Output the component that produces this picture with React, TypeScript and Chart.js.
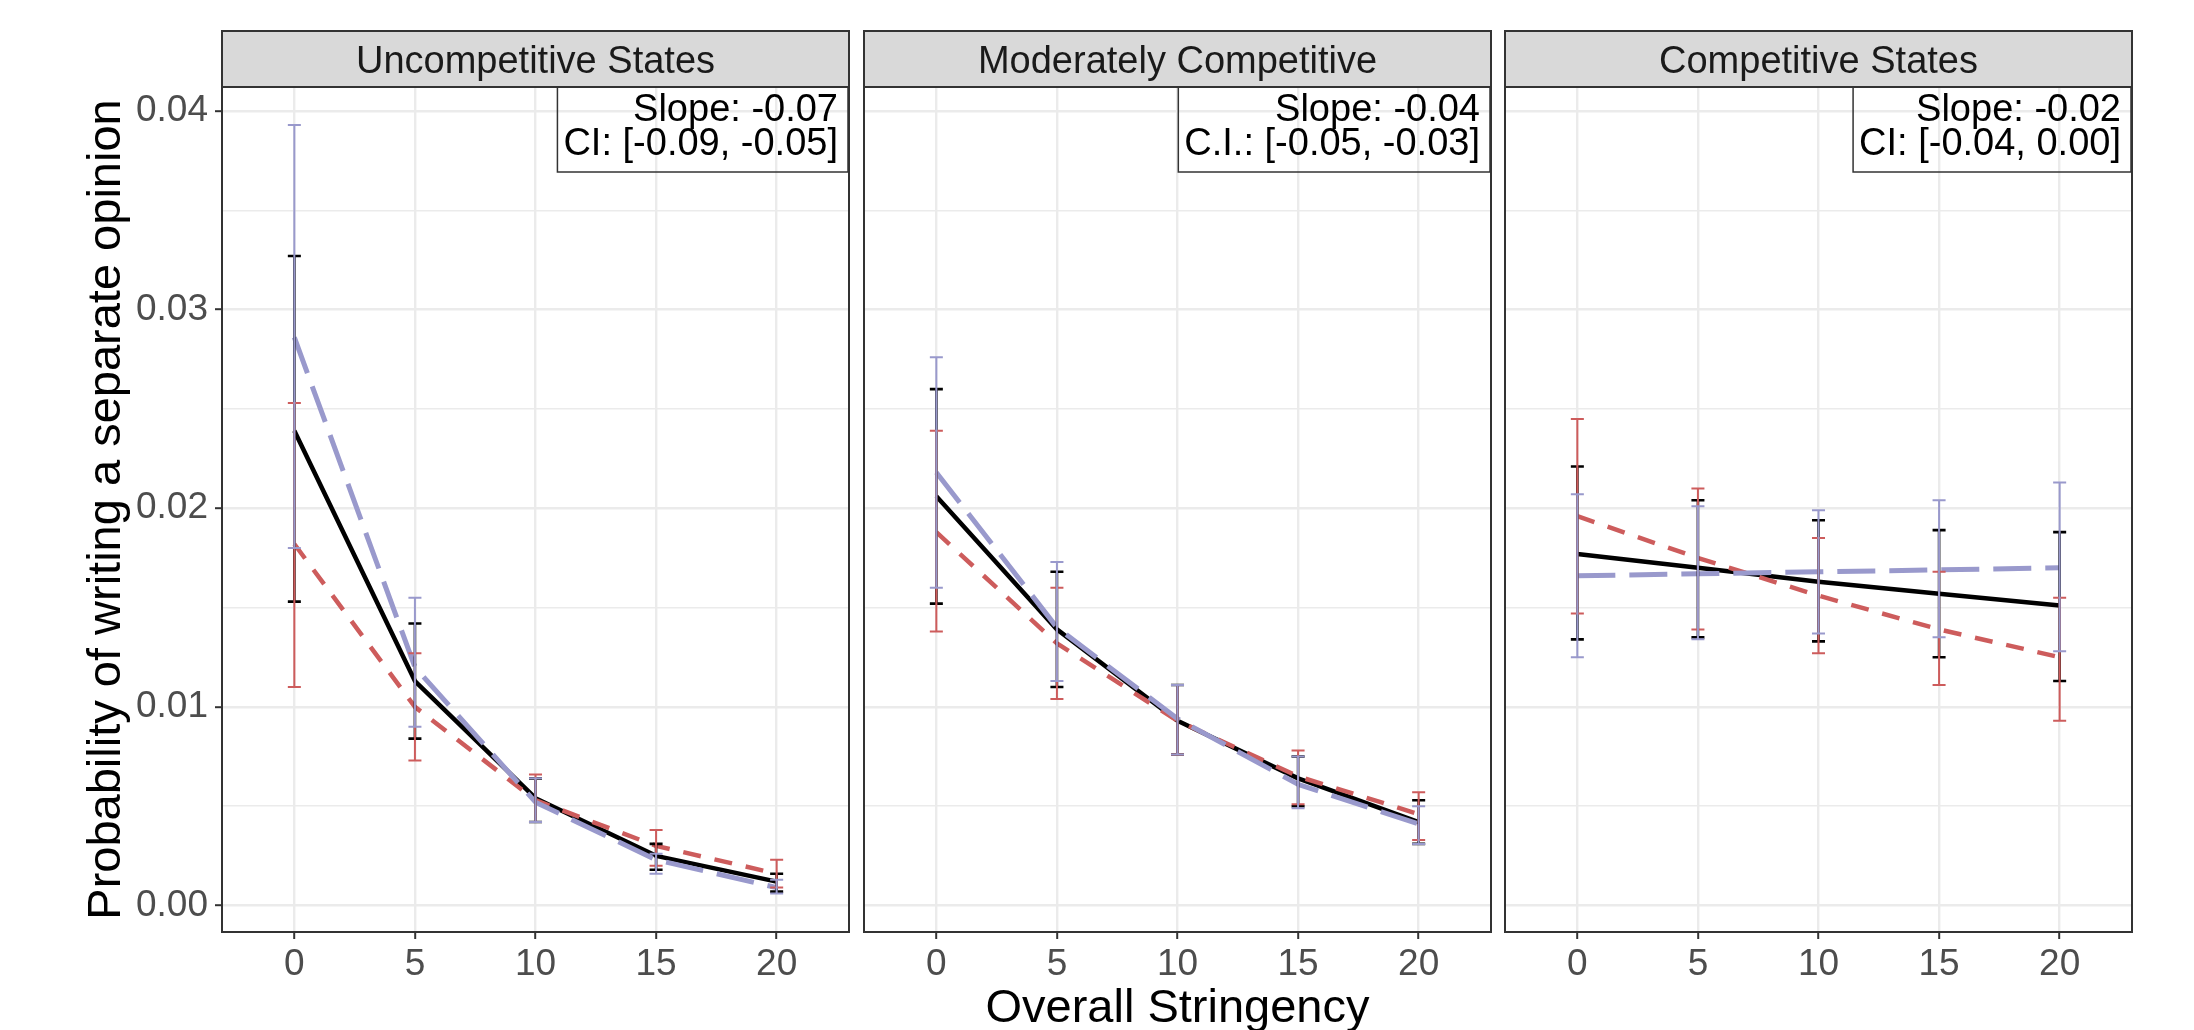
import React, { useEffect, useRef } from 'react';
import { Chart, registerables } from 'chart.js';

Chart.register(...registerables);

// ---------------- data ----------------
const stringency = [0, 5, 10, 15, 20];
const xTickValues = [0, 5, 10, 15, 20];
const yMajorValues = [0, 0.01, 0.02, 0.03, 0.04];
const yMajorLabels = ['0.00', '0.01', '0.02', '0.03', '0.04'];
const yMinorValues = [0.005, 0.015, 0.025, 0.035];

const panelTitles = ['Uncompetitive States', 'Moderately Competitive', 'Competitive States'];
const slopeTexts = ['Slope: -0.07', 'Slope: -0.04', 'Slope: -0.02'];
const ciTexts = ['CI: [-0.09, -0.05]', 'C.I.: [-0.05, -0.03]', 'CI: [-0.04, 0.00]'];
const yAxisTitle = 'Probability of writing a separate opinion';
const xAxisTitle = 'Overall Stringency';
const seriesNames = ['solid', 'short dash', 'long dash'];

// Panel 1: Uncompetitive States
const uncompSolid = [0.0239, 0.0113, 0.0054, 0.0025, 0.0012];
const uncompSolidLo = [0.0153, 0.0084, 0.0042, 0.0018, 0.0007];
const uncompSolidHi = [0.0327, 0.0142, 0.0064, 0.0031, 0.0016];
const uncompShort = [0.0182, 0.0100, 0.0053, 0.0030, 0.0016];
const uncompShortLo = [0.0110, 0.0073, 0.0042, 0.0020, 0.0009];
const uncompShortHi = [0.0253, 0.0127, 0.0066, 0.0038, 0.0023];
const uncompLong = [0.0286, 0.0120, 0.0052, 0.0023, 0.0009];
const uncompLongLo = [0.0180, 0.0090, 0.0042, 0.0016, 0.0006];
const uncompLongHi = [0.0393, 0.0155, 0.0064, 0.0026, 0.0013];

// Panel 2: Moderately Competitive
const modSolid = [0.0206, 0.0139, 0.0093, 0.0064, 0.0042];
const modSolidLo = [0.0152, 0.0110, 0.0076, 0.0050, 0.0031];
const modSolidHi = [0.0260, 0.0168, 0.0111, 0.0075, 0.0053];
const modShort = [0.0188, 0.0132, 0.0093, 0.0065, 0.0046];
const modShortLo = [0.0138, 0.0104, 0.0076, 0.0051, 0.0033];
const modShortHi = [0.0239, 0.0160, 0.0111, 0.0078, 0.0057];
const modLong = [0.0218, 0.0140, 0.0094, 0.0061, 0.0041];
const modLongLo = [0.0160, 0.0113, 0.0076, 0.0049, 0.0031];
const modLongHi = [0.0276, 0.0173, 0.0111, 0.0075, 0.0050];

// Panel 3: Competitive States
const compSolid = [0.0177, 0.0170, 0.0163, 0.0157, 0.0151];
const compSolidLo = [0.0134, 0.0135, 0.0133, 0.0125, 0.0113];
const compSolidHi = [0.0221, 0.0204, 0.0194, 0.0189, 0.0188];
const compShort = [0.0196, 0.0175, 0.0156, 0.0139, 0.0125];
const compShortLo = [0.0147, 0.0139, 0.0127, 0.0111, 0.0093];
const compShortHi = [0.0245, 0.0210, 0.0185, 0.0168, 0.0155];
const compLong = [0.0166, 0.0167, 0.0168, 0.0169, 0.0170];
const compLongLo = [0.0125, 0.0134, 0.0137, 0.0135, 0.0128];
const compLongHi = [0.0207, 0.0201, 0.0199, 0.0204, 0.0213];

const panelSeries = [
  [
    { mean: uncompSolid, lo: uncompSolidLo, hi: uncompSolidHi },
    { mean: uncompShort, lo: uncompShortLo, hi: uncompShortHi },
    { mean: uncompLong, lo: uncompLongLo, hi: uncompLongHi },
  ],
  [
    { mean: modSolid, lo: modSolidLo, hi: modSolidHi },
    { mean: modShort, lo: modShortLo, hi: modShortHi },
    { mean: modLong, lo: modLongLo, hi: modLongHi },
  ],
  [
    { mean: compSolid, lo: compSolidLo, hi: compSolidHi },
    { mean: compShort, lo: compShortLo, hi: compShortHi },
    { mean: compLong, lo: compLongLo, hi: compLongHi },
  ],
];

// ---------------- styles / layout ----------------
const FONT = "'Liberation Sans', Arial, Helvetica, sans-serif";
const W = 2194;
const H = 1030;
const STRIP_TOP = 31;
const PANEL_TOP = 87;
const PANEL_BOTTOM = 932;
const X_MIN = -3;
const X_MAX = 23;
const Y_MIN = -0.001335;
const Y_MAX = 0.04121;
const ERR_WIDTH = 0.54;

const seriesColors = ['#000000', '#CD5C5C', '#9999CC'];
const seriesWidths = [4.5, 4.5, 5];
const seriesDashes: number[][] = [[], [18, 14], [38, 14]];
const seriesOrder = [2, 1, 0];
const errLineWidths = [2.6, 2, 2];

const canvasGeom = [
  { left: 0, width: 856, yWidth: 222, padRight: 7 },
  { left: 856, width: 642, yWidth: 8, padRight: 7 },
  { left: 1498, width: 696, yWidth: 7, padRight: 62 },
];

const isMajorY = (v: number) => yMajorValues.some((m) => Math.abs(m - v) < 1e-9);

function buildConfig(idx: number): any {
  const g = canvasGeom[idx];
  const datasets = panelSeries[idx].map((s, k) => ({
    label: seriesNames[k],
    data: stringency.map((x, i) => ({ x, y: s.mean[i] })),
    errLo: s.lo,
    errHi: s.hi,
    borderColor: seriesColors[k],
    backgroundColor: seriesColors[k],
    borderWidth: seriesWidths[k],
    borderDash: seriesDashes[k],
    borderCapStyle: 'butt',
    borderJoinStyle: 'round',
    pointRadius: 0,
    pointHoverRadius: 0,
    fill: false,
    tension: 0,
    order: seriesOrder[k],
  }));

  const decor = {
    id: 'panelDecor',
    afterDatasetsDraw(chart: any) {
      const ctx = chart.ctx;
      const xs = chart.scales.x;
      const ys = chart.scales.y;
      const half = xs.getPixelForValue(ERR_WIDTH / 2) - xs.getPixelForValue(0);
      ctx.save();
      chart.data.datasets.forEach((ds: any, k: number) => {
        ctx.strokeStyle = ds.borderColor;
        ctx.lineWidth = errLineWidths[k];
        ctx.setLineDash([]);
        ctx.lineCap = 'butt';
        stringency.forEach((xv, i) => {
          const px = xs.getPixelForValue(xv);
          const pLo = ys.getPixelForValue(ds.errLo[i]);
          const pHi = ys.getPixelForValue(ds.errHi[i]);
          ctx.beginPath();
          ctx.moveTo(px, pLo);
          ctx.lineTo(px, pHi);
          ctx.moveTo(px - half, pLo);
          ctx.lineTo(px + half, pLo);
          ctx.moveTo(px - half, pHi);
          ctx.lineTo(px + half, pHi);
          ctx.stroke();
        });
      });
      ctx.restore();
    },
    afterDraw(chart: any) {
      const ctx = chart.ctx;
      const a = chart.chartArea;
      ctx.save();
      ctx.setLineDash([]);
      // panel border
      ctx.strokeStyle = '#333333';
      ctx.lineWidth = 2;
      ctx.strokeRect(a.left, a.top, a.right - a.left, a.bottom - a.top);
      // strip
      ctx.fillStyle = '#D9D9D9';
      ctx.fillRect(a.left, STRIP_TOP, a.right - a.left, PANEL_TOP - STRIP_TOP);
      ctx.strokeRect(a.left, STRIP_TOP, a.right - a.left, PANEL_TOP - STRIP_TOP);
      ctx.fillStyle = '#1A1A1A';
      ctx.font = `38px ${FONT}`;
      ctx.textAlign = 'center';
      ctx.textBaseline = 'alphabetic';
      ctx.fillText(panelTitles[idx], (a.left + a.right) / 2, 72.5);
      // slope annotation
      const tr = a.right - 11;
      const w = Math.max(ctx.measureText(slopeTexts[idx]).width, ctx.measureText(ciTexts[idx]).width);
      const boxL = tr - w - 6;
      ctx.strokeStyle = '#333333';
      ctx.lineWidth = 1.5;
      ctx.strokeRect(boxL, a.top, a.right - 1 - boxL, 172 - a.top);
      ctx.fillStyle = '#000000';
      ctx.textAlign = 'right';
      ctx.fillText(slopeTexts[idx], tr, 121);
      ctx.fillText(ciTexts[idx], tr, 155);
      // axis titles
      ctx.font = `47px ${FONT}`;
      ctx.fillStyle = '#000000';
      if (idx === 0) {
        ctx.save();
        ctx.translate(120, (a.top + a.bottom) / 2);
        ctx.rotate(-Math.PI / 2);
        ctx.textAlign = 'center';
        ctx.fillText(yAxisTitle, 0, 0);
        ctx.restore();
      }
      if (idx === 1) {
        ctx.textAlign = 'center';
        ctx.fillText(xAxisTitle, (a.left + a.right) / 2, 1022);
      }
      ctx.restore();
    },
  };

  return {
    type: 'line',
    data: { datasets },
    plugins: [decor],
    options: {
      responsive: false,
      animation: false,
      devicePixelRatio: 1,
      events: [],
      layout: { padding: { top: PANEL_TOP, right: g.padRight, left: 0, bottom: 0 } },
      plugins: { legend: { display: false }, tooltip: { enabled: false }, title: { display: false } },
      scales: {
        x: {
          type: 'linear',
          min: X_MIN,
          max: X_MAX,
          afterBuildTicks: (s: any) => {
            s.ticks = xTickValues.map((v) => ({ value: v }));
          },
          afterFit: (s: any) => {
            s.height = H - PANEL_BOTTOM;
          },
          ticks: {
            autoSkip: false,
            maxRotation: 0,
            minRotation: 0,
            padding: 4,
            color: '#4D4D4D',
            font: { family: FONT, size: 37 },
            callback: (v: any) => String(v),
          },
          grid: {
            color: '#EBEBEB',
            lineWidth: 2.4,
            drawTicks: true,
            tickLength: 7,
            tickColor: '#333333',
            tickWidth: 2,
          },
          border: { display: false },
        },
        y: {
          type: 'linear',
          min: Y_MIN,
          max: Y_MAX,
          afterBuildTicks: (s: any) => {
            s.ticks = [...yMajorValues, ...yMinorValues].sort((p, q) => p - q).map((v) => ({ value: v }));
          },
          afterFit: (s: any) => {
            s.width = g.yWidth;
          },
          ticks: {
            display: idx === 0,
            padding: 7,
            color: '#4D4D4D',
            font: { family: FONT, size: 37 },
            callback: (v: any) => {
              const j = yMajorValues.findIndex((m) => Math.abs(m - v) < 1e-9);
              return j >= 0 ? yMajorLabels[j] : '';
            },
          },
          grid: {
            color: '#EBEBEB',
            lineWidth: (c: any) => (c.tick && isMajorY(c.tick.value) ? 2.4 : 1.4),
            drawTicks: idx === 0,
            tickLength: 7,
            tickColor: (c: any) => (c.tick && isMajorY(c.tick.value) ? '#333333' : 'rgba(0,0,0,0)'),
            tickWidth: 2,
          },
          border: { display: false },
        },
      },
    },
  };
}

function Panel({ idx }: { idx: number }) {
  const ref = useRef<HTMLCanvasElement>(null);
  useEffect(() => {
    const chart = new Chart(ref.current as HTMLCanvasElement, buildConfig(idx));
    return () => chart.destroy();
  }, [idx]);
  const g = canvasGeom[idx];
  return (
    <canvas
      ref={ref}
      width={g.width}
      height={H}
      style={{ position: 'absolute', left: g.left, top: 0, width: g.width, height: H }}
    />
  );
}

export default function App() {
  return (
    <div style={{ position: 'absolute', left: 0, top: 0, width: W, height: H, background: '#ffffff', overflow: 'hidden' }}>
      {[0, 1, 2].map((i) => (
        <Panel key={i} idx={i} />
      ))}
    </div>
  );
}
